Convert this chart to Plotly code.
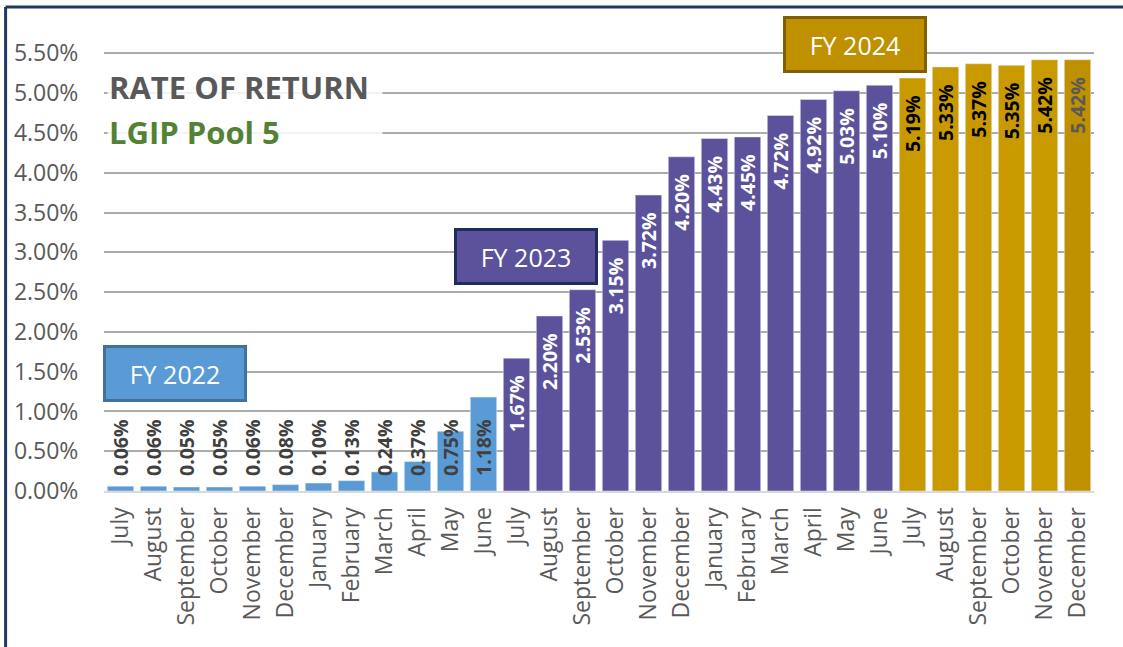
import plotly.graph_objects as go

months = ["July", "August", "September", "October", "November", "December",
          "January", "February", "March", "April", "May", "June"]
fy2022_labels = months
fy2023_labels = months
fy2024_labels = ["July", "August", "September", "October", "November", "December"]

fy2022 = [0.06, 0.06, 0.05, 0.05, 0.06, 0.08, 0.10, 0.13, 0.24, 0.37, 0.75, 1.18]
fy2023 = [1.67, 2.20, 2.53, 3.15, 3.72, 4.20, 4.43, 4.45, 4.72, 4.92, 5.03, 5.10]
fy2024 = [5.19, 5.33, 5.37, 5.35, 5.42, 5.42]

y_ticks = [0.0, 0.5, 1.0, 1.5, 2.0, 2.5, 3.0, 3.5, 4.0, 4.5, 5.0, 5.5]

c22, c23, c24 = "#5B9BD5", "#5C529C", "#C99A00"

all_labels = fy2022_labels + fy2023_labels + fy2024_labels
x22 = list(range(0, 12))
x23 = list(range(12, 24))
x24 = list(range(24, 30))

FONT = "Open Sans"

fig = go.Figure()
fig.add_trace(go.Bar(x=x22, y=[v / 100 for v in fy2022], marker_color=c22, width=0.8, name="FY 2022"))
fig.add_trace(go.Bar(x=x23, y=[v / 100 for v in fy2023], marker_color=c23, width=0.8, name="FY 2023"))
fig.add_trace(go.Bar(x=x24, y=[v / 100 for v in fy2024],
                     marker_color=[c24] * 5 + ["#BF9000"], width=0.8, name="FY 2024"))

ann = []
for x, v in zip(x22, fy2022):
    ann.append(dict(x=x, y=0, xref="x", yref="y", text=f"{v:.2f}%", textangle=-90,
                    yanchor="bottom", yshift=13, showarrow=False,
                    font=dict(family=FONT, size=19.5, color="#404040", weight="bold")))
for x, v in zip(x23, fy2023):
    ann.append(dict(x=x, y=v / 100, xref="x", yref="y", text=f"{v:.2f}%", textangle=-90,
                    yanchor="top", yshift=-15, showarrow=False,
                    font=dict(family=FONT, size=19.5, color="white", weight="bold")))
for i, (x, v) in enumerate(zip(x24, fy2024)):
    ann.append(dict(x=x, y=v / 100, xref="x", yref="y", text=f"{v:.2f}%", textangle=-90,
                    yanchor="top", yshift=-15, showarrow=False,
                    font=dict(family=FONT, size=19.5, color="#595959" if i == 5 else "black", weight="bold")))


def fy_box(text, xc, yc, fill, border):
    return dict(x=xc, y=yc, xref="x", yref="y", text=text, showarrow=False,
                width=136, height=49, bgcolor=fill, bordercolor=border, borderwidth=3,
                font=dict(family=FONT, size=25, color="white"), xanchor="center", yanchor="middle")


ann.append(fy_box("FY 2022", 1.64, 0.01475, c22, "#41719C"))
ann.append(fy_box("FY 2023", 12.30, 0.02945, c23, "#1F2D5C"))
ann.append(fy_box("FY 2024", 22.26, 0.05615, "#BF9000", "#7F6000"))

ann.append(dict(x=0.003, y=0.8505, xref="paper", yref="paper", text="RATE OF RETURN",
                showarrow=False, xanchor="left", yanchor="middle", align="left", width=272,
                bgcolor="rgba(255,255,255,0.85)",
                font=dict(family=FONT, size=31, color="#595959", weight="bold")))
ann.append(dict(x=0.003, y=0.7558, xref="paper", yref="paper", text="LGIP Pool 5",
                showarrow=False, xanchor="left", yanchor="middle", align="left", width=272,
                bgcolor="rgba(255,255,255,0.85)",
                font=dict(family=FONT, size=31, color="#548235", weight="bold")))

shapes = [
    dict(type="line", xref="paper", yref="paper", x0=-0.0994, x1=1.03, y0=1.0189, y1=1.0189,
         line=dict(color="#1F3864", width=3)),
    dict(type="line", xref="paper", yref="paper", x0=-0.0994, x1=-0.0994, y0=1.0189, y1=-0.33,
         line=dict(color="#1F3864", width=3)),
]

fig.update_layout(
    width=1123, height=647,
    margin=dict(l=103.5, r=28.5, t=16, b=156),
    paper_bgcolor="white", plot_bgcolor="white",
    barmode="overlay", showlegend=False,
    annotations=ann, shapes=shapes,
    font=dict(family=FONT, color="#595959"),
)
fig.update_xaxes(
    tickmode="array", tickvals=list(range(30)), ticktext=all_labels,
    range=[-0.5, 29.5], tickangle=-90, tickfont=dict(family=FONT, size=23, color="#595959"),
    showgrid=False, showline=True, linecolor="#D9D9D9", linewidth=2,
    ticks="outside", ticklen=5, tickcolor="rgba(0,0,0,0)",
)
fig.update_yaxes(
    range=[0, 0.0597], tickmode="array", tickvals=[t / 100 for t in y_ticks], tickformat=".2%",
    tickfont=dict(family=FONT, size=23, color="#595959"),
    showgrid=True, gridcolor="#ABABAB", gridwidth=2, zeroline=False,
    ticks="outside", ticklen=20, tickcolor="rgba(0,0,0,0)",
)

fig.write_html("out.html", config={"displayModeBar": False},
               post_script="document.body.style.margin='0px';")
